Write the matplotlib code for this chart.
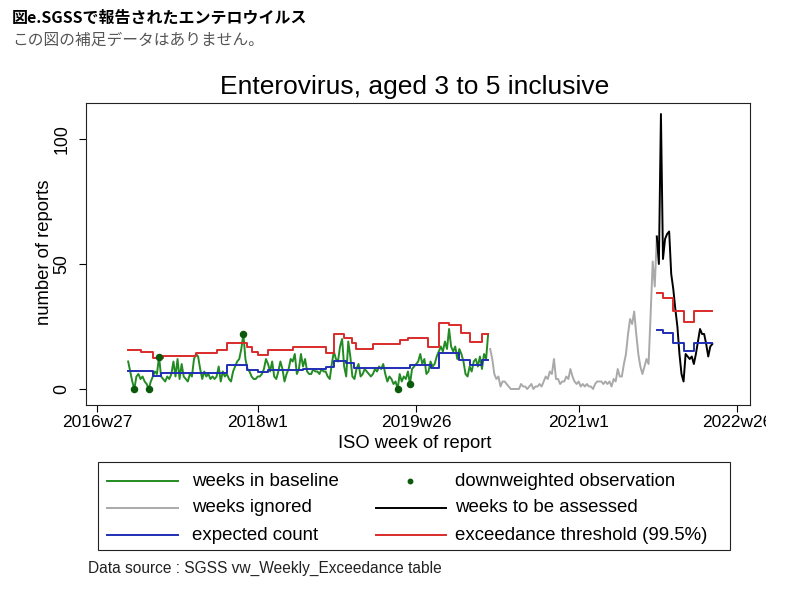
import matplotlib
matplotlib.use('Agg')
import matplotlib.pyplot as plt
from matplotlib.lines import Line2D
from matplotlib.patches import Rectangle
from matplotlib.transforms import Bbox
import numpy as np

# ---------------- data (weeks counted from 2016w27, Stata weekly scale) -------------
tick_pos = [0, 78, 155, 234, 311]
tick_labels = ["2016w27", "2018w1", "2019w26", "2021w1", "2022w26"]

green_start = 15
green_vals = [
    11, 7, 3, 0, 5, 6, 4, 5, 3, 2,
    0, 3, 5, 7, 6, 13, 5, 4, 3, 5,
    4, 6, 11, 5, 12, 4, 10, 5, 4, 3,
    6, 5, 12, 14, 13, 8, 4, 7, 5, 6,
    4, 5, 4, 5, 9, 3, 7, 5, 6, 4,
    3, 7, 9, 11, 12, 16, 22, 12, 8, 7,
    5, 4, 4, 5, 5, 6, 8, 12, 10, 7,
    11, 5, 4, 7, 11, 8, 3, 6, 8, 12,
    11, 14, 6, 8, 14, 9, 12, 7, 6, 6,
    8, 7, 7, 6, 8, 7, 7, 5, 4, 10,
    15, 12, 11, 17, 20, 9, 5, 19, 13, 5,
    4, 8, 10, 5, 6, 8, 7, 6, 5, 6,
    8, 7, 9, 8, 10, 6, 3, 5, 4, 2,
    3, 0, 6, 3, 5, 4, 7, 2, 8, 9,
    10, 11, 14, 10, 12, 6, 7, 11, 9, 10,
    13, 15, 17, 15, 19, 16, 24, 17, 15, 17,
    12, 16, 14, 11, 6, 5, 9, 7, 11, 12,
    9, 13, 8, 14, 12, 22,
]
downweighted_idx = [3, 10, 15, 56, 131, 137]

grey_start = 191
grey_vals = [
    16, 12, 6, 4, 5, 1, 3, 3, 2, 1,
    0, 0, 0, 0, 0, 2, 1, 1, 0, 1,
    2, 0, 1, 1, 2, 1, 3, 5, 4, 7,
    6, 12, 4, 4, 2, 3, 3, 5, 4, 8,
    5, 3, 2, 3, 1, 2, 1, 2, 1, 1,
    0, 2, 3, 3, 3, 2, 3, 2, 3, 1,
    4, 3, 8, 5, 5, 10, 14, 22, 28, 26,
    31, 22, 14, 9, 6, 9, 12, 10, 30, 51,
    41, 61,
]

black_start = 272
black_vals = [
    61, 50, 110, 52, 60, 62, 63, 46, 40, 32,
    25, 14, 6, 3, 14, 13, 12, 13, 10, 14,
    19, 24, 22, 22, 18, 13, 17, 18,
]

# step functions: week where each level begins (last entry = end of series)
red_base_weeks = [15, 21, 27, 32, 48, 58, 63, 73, 75, 78, 83, 95, 111, 115, 120,
                  124, 126, 134, 147, 151, 161, 166, 171, 177, 181, 187, 190]
red_base_vals = [15.8, 15.0, 12.3, 13.2, 14.3, 15.6, 18.6, 16.9, 14.9, 13.6, 15.8,
                 16.9, 14.5, 22.2, 20.3, 18.3, 15.9, 18.0, 19.6, 20.3, 17.0, 26.3,
                 25.5, 22.3, 19.0, 21.9, 21.9]
blue_base_weeks = [15, 27, 31, 63, 73, 78, 83, 100, 111, 115, 121, 125, 152, 162,
                   166, 176, 181, 187, 190]
blue_base_vals = [7.3, 5.2, 6.3, 9.5, 7.6, 6.9, 7.6, 7.9, 8.9, 11.4, 10.3, 8.3,
                  9.6, 8.3, 14.3, 11.6, 9.6, 11.6, 11.6]

red_assess_weeks = [272, 275, 280, 285, 290, 299]
red_assess_vals = [38.3, 36.3, 31.3, 26.8, 31.2, 31.2]
blue_assess_weeks = [272, 275, 280, 285, 290, 299]
blue_assess_vals = [23.6, 22.3, 18.3, 15.3, 18.3, 18.3]

# ---------------- styling ----------------
C_GREEN = '#238b23'
C_GREY = '#a9a9a9'
C_BLUE = '#1f2fb4'
C_RED = '#d92b2b'
C_DOT = '#0b5a0b'
FONT = 'Liberation Sans'
LW = 1.4

W, H = 797, 612
fig = plt.figure(figsize=(W / 100, H / 100), dpi=100)
fig.patch.set_facecolor('white')


def fx(px):
    return px / W


def fy(py):
    return 1 - py / H


ax = fig.add_axes([fx(86), fy(405), fx(750) - fx(86), fy(103) - fy(405)])

gw = np.arange(len(green_vals)) + green_start
yw = np.arange(len(grey_vals)) + grey_start
bw = np.arange(len(black_vals)) + black_start

ax.plot(yw, grey_vals, color=C_GREY, lw=LW, zorder=2)
ax.plot(gw, green_vals, color=C_GREEN, lw=LW, zorder=3)
ax.plot(bw, black_vals, color='black', lw=LW, zorder=3)
ax.plot(red_base_weeks, red_base_vals, color=C_RED, lw=LW, drawstyle='steps-post', zorder=4)
ax.plot(blue_base_weeks, blue_base_vals, color=C_BLUE, lw=LW, drawstyle='steps-post', zorder=4)
ax.plot(red_assess_weeks, red_assess_vals, color=C_RED, lw=LW, drawstyle='steps-post', zorder=4)
ax.plot(blue_assess_weeks, blue_assess_vals, color=C_BLUE, lw=LW, drawstyle='steps-post', zorder=4)
dwx = [gw[i] for i in downweighted_idx]
dwy = [green_vals[i] for i in downweighted_idx]
ax.plot(dwx, dwy, 'o', color=C_DOT, ms=4.4, zorder=5)

ax.set_xlim(-5.5, 317.3)
ax.set_ylim(-6.4, 114.4)
ax.set_xticks(tick_pos)
ax.set_xticklabels(tick_labels, fontsize=12.5, family=FONT)
ax.set_yticks([0, 50, 100])
ax.set_yticklabels(['0', '50', '100'], fontsize=12.7, family=FONT,
                   rotation=90, va='center')
ax.tick_params(axis='x', direction='out', length=5, width=0.8, pad=2.5)
ax.tick_params(axis='y', direction='out', length=5, width=0.8, pad=6)
for sp in ax.spines.values():
    sp.set_linewidth(0.8)
    sp.set_color('#222222')

# clip the last tick label at the image edge like the reference
clip_bb = Bbox([[0, 0], [766, H]])
for t in ax.get_xticklabels():
    t.set_clip_box(clip_bb)
    t.set_clip_on(True)

# ---------------- texts ----------------
fig.text(fx(12), fy(18), '図e.SGSSで報告されたエンテロウイルス', fontsize=11.5,
         fontweight='bold', family=['Noto Sans CJK JP', 'DejaVu Sans'], va='center', ha='left')
fig.text(fx(12), fy(40), 'この図の補足データはありません。', fontsize=11.3,
         color='#555555', family=['Noto Sans CJK JP', 'DejaVu Sans'], va='center', ha='left')
fig.text(fx(415), fy(87), 'Enterovirus, aged 3 to 5 inclusive', fontsize=19,
         family=FONT, ha='center', va='center')
fig.text(fx(415), fy(444), 'ISO week of report', fontsize=13.2, family=FONT,
         ha='center', va='center')
fig.text(fx(45), fy(252), 'number of reports', fontsize=13.3, family=FONT,
         rotation=90, ha='center', va='center')
fig.text(fx(88), fy(568), 'Data source : SGSS vw_Weekly_Exceedance table',
         fontsize=11.2, family=FONT, ha='left', va='center', color='#222222')

# ---------------- legend ----------------
fig.add_artist(Rectangle((fx(98), fy(550)), fx(730) - fx(98), fy(462) - fy(550),
                         transform=fig.transFigure, fill=False,
                         edgecolor='#222222', lw=0.8))
rows = [481, 508, 535]
col1 = [('weeks in baseline', C_GREEN), ('weeks ignored', C_GREY), ('expected count', C_BLUE)]
col2 = [('downweighted observation', None), ('weeks to be assessed', 'black'),
        ('exceedance threshold (99.5%)', C_RED)]
LFS = 13.4
for (lab, c), ry in zip(col1, rows):
    fig.add_artist(Line2D([fx(107), fx(178)], [fy(ry), fy(ry)], color=c, lw=LW,
                          transform=fig.transFigure))
    fig.text(fx(192), fy(ry), lab, fontsize=LFS, family=FONT, ha='left', va='center')
for (lab, c), ry in zip(col2, rows):
    if c is None:
        fig.add_artist(Line2D([fx(410)], [fy(ry)], marker='o', ms=3.2, color=C_DOT,
                              lw=0, transform=fig.transFigure))
    else:
        fig.add_artist(Line2D([fx(376), fx(446)], [fy(ry), fy(ry)], color=c, lw=LW,
                              transform=fig.transFigure))
    fig.text(fx(455), fy(ry), lab, fontsize=LFS, family=FONT, ha='left', va='center')

fig.savefig('out.png', dpi=100, facecolor='white')
